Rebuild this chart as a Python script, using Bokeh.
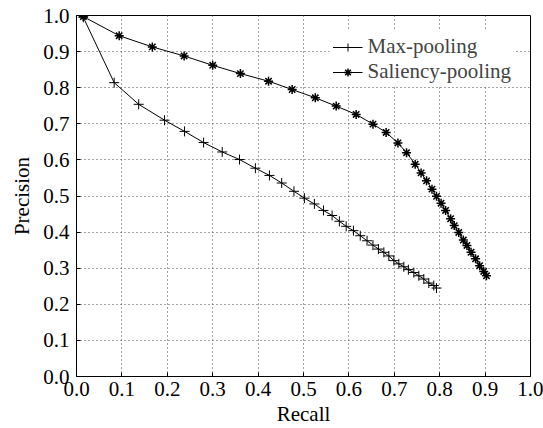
from bokeh.plotting import figure
from bokeh.embed import file_html
from bokeh.resources import INLINE
from bokeh.models import FixedTicker

max_recall = [0.015, 0.083, 0.137, 0.194, 0.238, 0.280, 0.321, 0.359, 0.394, 0.425, 0.452,
              0.479, 0.502, 0.524, 0.544, 0.563, 0.579, 0.594, 0.610, 0.625, 0.640, 0.653,
              0.665, 0.677, 0.688, 0.699, 0.710, 0.721, 0.731, 0.743, 0.754, 0.765, 0.776,
              0.787, 0.793]
max_precision = [0.995, 0.814, 0.754, 0.710, 0.679, 0.648, 0.622, 0.601, 0.577, 0.557, 0.536,
                 0.513, 0.494, 0.478, 0.460, 0.446, 0.430, 0.416, 0.404, 0.390, 0.376, 0.364,
                 0.353, 0.344, 0.334, 0.321, 0.312, 0.304, 0.296, 0.288, 0.279, 0.270, 0.259,
                 0.252, 0.245]

sal_recall = [0.015, 0.094, 0.167, 0.237, 0.300, 0.361, 0.423, 0.475, 0.526, 0.572, 0.616,
              0.653, 0.682, 0.708, 0.727, 0.746, 0.759, 0.771, 0.783, 0.793, 0.803, 0.813,
              0.824, 0.832, 0.842, 0.852, 0.860, 0.869, 0.879, 0.888, 0.897, 0.903]
sal_precision = [0.997, 0.944, 0.913, 0.888, 0.862, 0.839, 0.818, 0.795, 0.772, 0.749, 0.726,
                 0.699, 0.676, 0.647, 0.620, 0.588, 0.564, 0.542, 0.519, 0.499, 0.480, 0.460,
                 0.437, 0.418, 0.399, 0.378, 0.363, 0.344, 0.326, 0.307, 0.291, 0.279]

ticks = [0.0, 0.1, 0.2, 0.3, 0.4, 0.5, 0.6, 0.7, 0.8, 0.9, 1.0]
tick_labels = ["0.0", "0.1", "0.2", "0.3", "0.4", "0.5", "0.6", "0.7", "0.8", "0.9", "1.0"]

FONT = "Liberation Serif"
FS = "21px"

p = figure(width=543, height=428, output_backend="svg", toolbar_location=None,
           x_range=(0, 1), y_range=(0, 1),
           min_border_left=76, min_border_right=13, min_border_top=15, min_border_bottom=52)

p.line(max_recall, max_precision, line_color="black", line_width=1, legend_label="Max-pooling")
p.scatter(max_recall, max_precision, marker="cross", size=10, line_color="black",
          line_width=1, legend_label="Max-pooling")
p.line(sal_recall, sal_precision, line_color="black", line_width=1, legend_label="Saliency-pooling")
p.scatter(sal_recall, sal_precision, marker="asterisk", size=9, line_color="black",
          line_width=1.5, legend_label="Saliency-pooling")

for ax in (p.xaxis[0], p.yaxis[0]):
    ax.ticker = FixedTicker(ticks=ticks)
    ax.major_label_overrides = {t: l for t, l in zip(ticks, tick_labels)}
    ax.major_label_text_font = FONT
    ax.major_label_text_font_size = FS
    ax.major_label_text_color = "black"
    ax.axis_label_text_font = FONT
    ax.axis_label_text_font_size = FS
    ax.axis_label_text_font_style = "normal"
    ax.axis_label_text_color = "black"
    ax.major_tick_in = 4
    ax.major_tick_out = 0
    ax.minor_tick_in = 0
    ax.minor_tick_out = 0
    ax.axis_line_color = "black"
    ax.major_tick_line_color = "black"

p.xaxis.axis_label = "Recall"
p.yaxis.axis_label = "Precision"
p.xaxis.major_label_standoff = 5
p.xaxis.axis_label_standoff = 3
p.yaxis.major_label_standoff = 7
p.yaxis.axis_label_standoff = 6

p.grid.grid_line_color = "#444444"
p.grid.grid_line_dash = "1 3"
p.grid.grid_line_width = 1
p.outline_line_color = "black"
p.outline_line_width = 1

p.legend.location = "top_right"
p.legend.label_text_font = FONT
p.legend.label_text_font_size = FS
p.legend.border_line_alpha = 0
p.legend.background_fill_alpha = 1
p.legend.glyph_width = 30
p.legend.label_standoff = 5
p.legend.spacing = 0
p.legend.padding = 3
p.legend.margin = 16

open("out.html", "w").write(file_html(p, INLINE))
